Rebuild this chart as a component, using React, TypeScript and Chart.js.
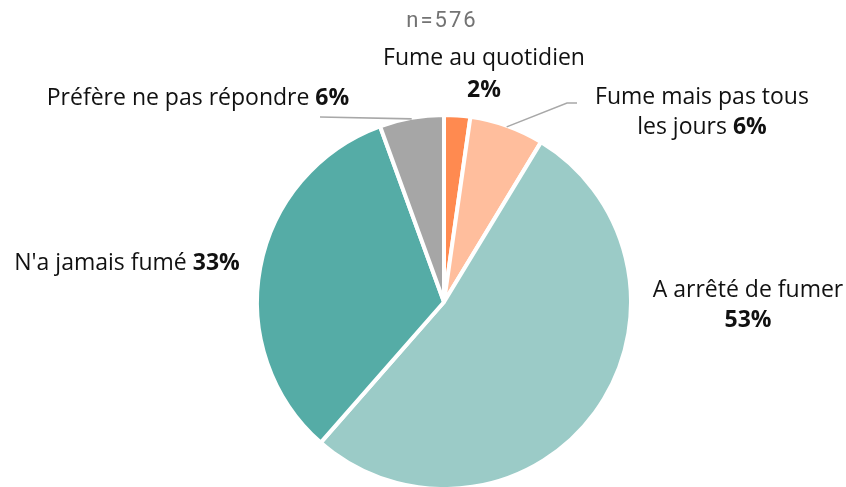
import React, { useEffect, useRef } from 'react';
import { Chart, registerables } from 'chart.js';

Chart.register(...registerables);

const TITLE = 'n=576';
const CATEGORIES = [
  'Fume au quotidien',
  'Fume mais pas tous les jours',
  'A arrêté de fumer',
  "N'a jamais fumé",
  'Préfère ne pas répondre',
];
const COUNTS = [13, 37, 304, 190, 32];
const COLORS = ['#FF8A50', '#FFBE9D', '#9BCBC7', '#55ACA6', '#A6A6A6'];
// How each category label is broken into lines on the chart
const LABEL_LINES = [
  ['Fume au quotidien'],
  ['Fume mais pas tous', 'les jours'],
  ['A arrêté de fumer'],
  ["N'a jamais fumé"],
  ['Préfère ne pas répondre'],
];
const PCT_ON_OWN_LINE = [true, false, true, false, false];

const FONT = '"Open Sans", "Noto Sans", sans-serif';
const FONT_SIZE = 23;
const TEXT_COLOR = '#111111';

// label placement relative to pie centre (first baseline), line height
const LABEL_POS = [
  { dx: 40, dy: -237, lh: 32 },
  { dx: 258, dy: -198, lh: 30 },
  { dx: 304, dy: -5, lh: 30 },
  { dx: -317, dy: -32, lh: 30 },
  { dx: -246, dy: -197, lh: 30 },
];
// leader lines: index -> points relative to pie centre after the slice edge point
const LEADERS: Record<number, Array<[number, number]>> = {
  1: [[123, -199], [133, -199]],
  4: [[-124, -185]],
};

const labelPlugin = {
  id: 'pieLabels',
  afterDraw(chart: any) {
    const ctx = chart.ctx as CanvasRenderingContext2D;
    const meta = chart.getDatasetMeta(0);
    if (!meta.data.length) return;
    const { x: cx, y: cy } = meta.data[0].getProps(['x', 'y'], true);
    const total = COUNTS.reduce((a, b) => a + b, 0);

    // title
    ctx.save();
    ctx.font = `400 22px Roboto, sans-serif`;
    ctx.fillStyle = '#737373';
    ctx.textAlign = 'center';
    ctx.textBaseline = 'alphabetic';
    (ctx as any).letterSpacing = '2px';
    ctx.fillText(TITLE, cx - 2, cy - 275);
    ctx.restore();

    // leader lines
    ctx.save();
    ctx.strokeStyle = '#A8A8A8';
    ctx.lineWidth = 1.6;
    Object.keys(LEADERS).forEach((k) => {
      const i = Number(k);
      const arc = meta.data[i].getProps(['x', 'y', 'startAngle', 'endAngle', 'outerRadius'], true);
      const mid = (arc.startAngle + arc.endAngle) / 2;
      const r = arc.outerRadius - 1;
      ctx.beginPath();
      ctx.moveTo(arc.x + Math.cos(mid) * r, arc.y + Math.sin(mid) * r);
      LEADERS[i].forEach(([dx, dy]) => ctx.lineTo(cx + dx, cy + dy));
      ctx.stroke();
    });
    ctx.restore();

    // labels
    ctx.save();
    ctx.fillStyle = TEXT_COLOR;
    ctx.textBaseline = 'alphabetic';
    ctx.textAlign = 'left';
    const reg = `400 ${FONT_SIZE}px ${FONT}`;
    const bold = `700 ${FONT_SIZE}px ${FONT}`;
    COUNTS.forEach((v, i) => {
      const pct = Math.round((v / total) * 100) + '%';
      const pos = LABEL_POS[i];
      const x0 = cx + pos.dx;
      let y = cy + pos.dy;
      const lines = LABEL_LINES[i];
      lines.forEach((line, li) => {
        const last = li === lines.length - 1;
        if (last && !PCT_ON_OWN_LINE[i]) {
          ctx.font = reg;
          const t1 = line + ' ';
          const w1 = ctx.measureText(t1).width;
          ctx.font = bold;
          const w2 = ctx.measureText(pct).width;
          const start = x0 - (w1 + w2) / 2;
          ctx.font = reg;
          ctx.fillText(t1, start, y);
          ctx.font = bold;
          ctx.fillText(pct, start + w1, y);
        } else {
          ctx.font = reg;
          const w = ctx.measureText(line).width;
          ctx.fillText(line, x0 - w / 2, y);
        }
        y += pos.lh;
      });
      if (PCT_ON_OWN_LINE[i]) {
        ctx.font = bold;
        const w = ctx.measureText(pct).width;
        ctx.fillText(pct, x0 - w / 2, y);
      }
    });
    ctx.restore();
  },
};

export default function App() {
  const ref = useRef<HTMLCanvasElement>(null);
  useEffect(() => {
    if (!ref.current) return;
    const chart = new Chart(ref.current, {
      type: 'pie',
      data: {
        labels: CATEGORIES,
        datasets: [
          {
            data: COUNTS,
            backgroundColor: COLORS,
            borderColor: '#ffffff',
            borderWidth: 4,
            radius: 187,
            hoverOffset: 0,
          } as any,
        ],
      },
      options: {
        responsive: false,
        animation: false,
        layout: { padding: { left: 42, right: 0, top: 117, bottom: 0 } },
        plugins: {
          legend: { display: false },
          title: { display: false },
          tooltip: { enabled: false },
        },
      },
      plugins: [labelPlugin],
    });
    return () => chart.destroy();
  }, []);
  return (
    <div style={{ position: 'fixed', left: 0, top: 0, width: 846, height: 487, background: '#fff' }}>
      <canvas ref={ref} width={846} height={487} style={{ display: 'block' }} />
    </div>
  );
}
